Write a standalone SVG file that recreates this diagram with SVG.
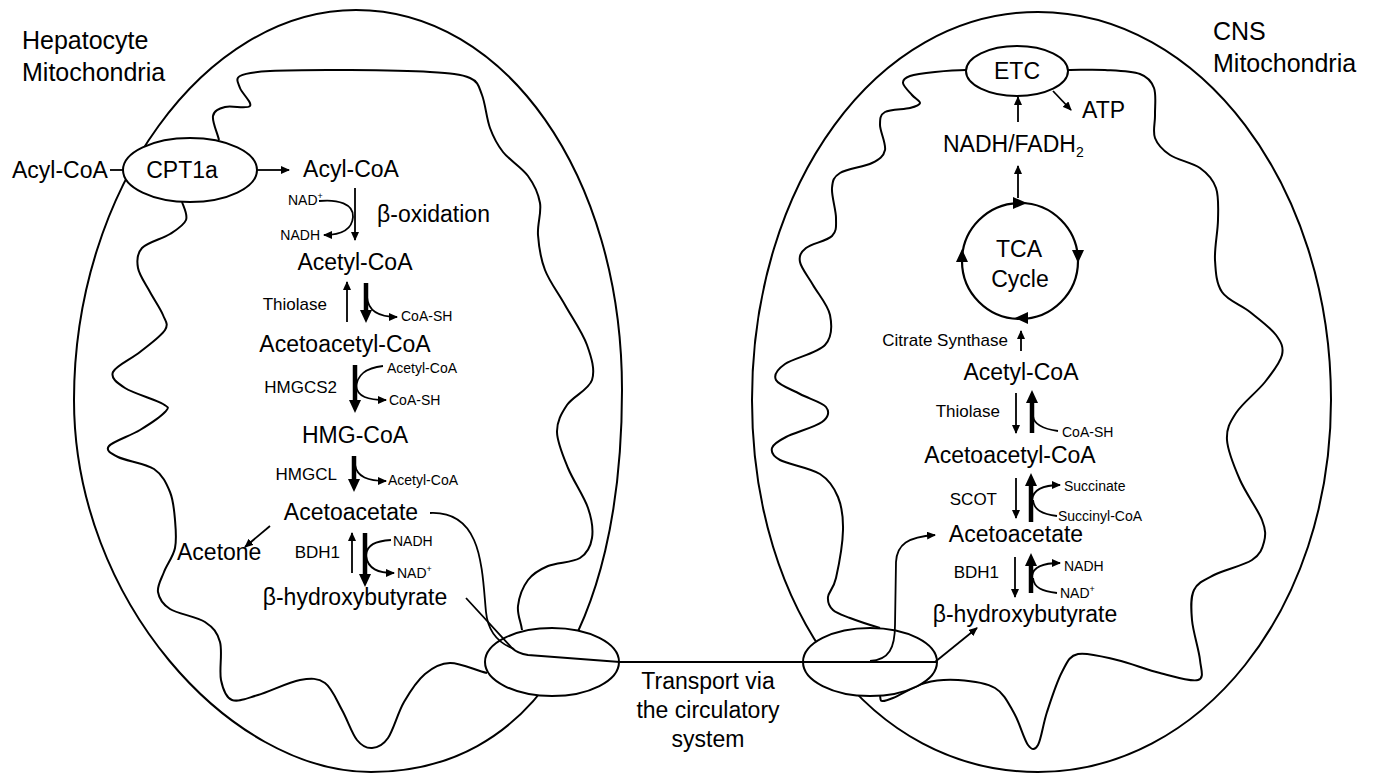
<svg xmlns="http://www.w3.org/2000/svg" width="1374" height="775" viewBox="0 0 1374 775">
<style>
text{font-family:"Liberation Sans",Arial,sans-serif;fill:#000}
.t{font-size:23px}
.e{font-size:17px}
.s{font-size:14px}
.h{font-size:25px}
.m{text-anchor:middle}
.r{text-anchor:end}
.mem{fill:none;stroke:#000;stroke-width:2}
.box{fill:#fff;stroke:#000;stroke-width:2}
.ln{fill:none;stroke:#000;stroke-width:1.8}
.ar{fill:none;stroke:#000;stroke-width:1.8;marker-end:url(#a)}
.tk{fill:none;stroke:#000;stroke-width:4.5;marker-end:url(#b)}
</style>
<defs>
<marker id="a" viewBox="0 0 9 8" refX="8" refY="4" markerWidth="9" markerHeight="8" markerUnits="userSpaceOnUse" orient="auto"><path d="M0,0L9,4L0,8Z"/></marker>
<marker id="b" viewBox="0 0 13 12" refX="4" refY="6" markerWidth="13" markerHeight="12" markerUnits="userSpaceOnUse" orient="auto"><path d="M0,0L13,6L0,12Z"/></marker>
</defs>
<rect width="1374" height="775" fill="#fff"/>

<g id="hepatocyte-mitochondrion">
<path class="mem" d="M356,10 C505,10 622,175 622,390 C622,630 530,772 371,772 C230,772 74,600 74,400 C74,190 205,10 356,10 Z"/>
<path class="mem" d="M182,202 C184,208 188,214.7 186,220 S177.3,229.3 170,234 S147.3,242.3 142,248 S136.7,260.7 138,268 S145.8,284.2 150,292 S160.5,308.7 163,315 S168.8,323.8 165,330 S148.7,345 140,352 S115.5,366 113,372 S116.7,382.7 125,388 S156.3,400 163,404 S168.8,407.7 165,412 S149.3,424.3 140,430 S112.7,441.5 109,446 S110.5,453.2 118,457 S145.3,463.2 154,469 S166.5,483.5 170,492 S174.2,510.7 175,520 S176.8,539.3 175,548 S166.8,564.7 164,572 S157,585.8 158,592 S162.2,604 170,609 S196.7,616.5 205,622 S217.3,632.3 220,642 S219,670.3 221,680 S225.8,697.5 232,700 S246.7,698.3 258,695 S288.8,682 300,680 S318,678 325,683 S336.7,700.5 342,710 S352,733.7 357,740 S366.8,748.3 372,748 S382.7,745.7 388,738 S397.8,712.7 404,702 S417.3,680.5 425,674 S439.7,663.2 450,663 S475,670 487,673"/>
<path class="mem" d="M219,140 C217,132 212,121.5 213,116 S218.8,108.7 225,107 S247.5,109.2 250,106 S241.7,93 240,88 S235,78.8 240,76 S251.7,72 270,71 S323.3,69.8 350,70 S410,70.7 430,72 S461.3,74.2 470,78 S478.7,86.7 482,95 S486.5,118.5 490,128 S496.7,144 503,152 S521.8,167.5 528,176 S538.3,193.2 540,203 S537.2,223.8 538,235 S540.5,258.3 545,270 S558,292.5 565,305 S582.5,332.5 587,345 S595.3,370 592,380 S572.8,396.3 567,405 S556.8,421.5 557,432 S562.8,455.3 568,468 S584,496.3 588,508 S593.3,529.7 592,538 S587.3,553.3 580,558 S556.7,562.3 548,566 S533,573.3 528,580 S519,597.7 518,606 S521,622 522,630"/>
<text class="h" x="22" y="49">Hepatocyte</text>
<text class="h" x="22" y="81">Mitochondria</text>
</g>

<g id="cns-mitochondrion">
<path class="mem" d="M1038,12 C1200,12 1331,185 1331,400 C1331,610 1200,772 1038,772 C870,772 752,610 752,400 C752,185 876,12 1038,12 Z"/>
<path class="mem" d="M966,70 C955,70 944.3,71 935,72 S915.3,74.2 910,76 S902.7,79.8 903,83 S909.2,91.7 912,95 S920.3,100.8 920,103 S915.8,106.5 910,108 S890,109.2 885,112 S880,118.7 880,125 S886.3,143.7 885,150 S879.5,159.2 872,163 S846.7,168.8 840,173 S832.7,180.5 832,188 S836,210 836,218 S837,231 832,236 S811.3,243.7 806,248 S798.8,255.8 800,262 S808,276.2 813,285 S828,305 830,315 S832.5,336.8 825,345 S793.2,358.2 785,364 S773.5,375 776,380 S791.7,389.5 800,394 S822.3,402.3 826,407 S828.7,417 822,422 S794.3,432.7 786,437 S773,444.2 772,448 S772,455.7 780,460 S810.3,467.8 820,474 S834.2,487.7 838,497 S843.3,516.5 843,530 S838.5,566.8 836,578 S828.5,591.7 828,597 S829.3,606.5 833,610 S842.2,615 850,618 S870,625 880,628"/>
<path class="mem" d="M1068,70 C1080,70 1093,69.3 1105,70 S1131.8,71 1140,74 S1151.5,81.2 1154,88 S1154.8,106.7 1155,115 S1152.5,131.3 1155,138 S1162.5,150 1170,155 S1192.3,162.5 1200,168 S1213,179.3 1216,188 S1218.2,208 1218,220 S1214.3,248 1215,260 S1216.2,283.3 1222,292 S1241,304.8 1250,312 S1270.7,327.8 1276,335 S1283.8,347.2 1282,355 S1272.7,372.3 1265,382 S1242.3,403.3 1236,413 S1226.3,428.8 1227,440 S1234.2,466.7 1240,480 S1258,509.7 1262,520 S1265.7,535.3 1264,542 S1260.3,554.5 1252,560 S1223.7,570 1214,575 S1197.7,582.5 1194,590 S1191,608.3 1192,620 S1199,650 1200,660 S1204.7,677.8 1198,680 S1173.5,676.3 1160,673 S1130.7,663.2 1117,660 S1087.2,652 1078,654 S1067.2,662.3 1062,672 S1051,699.8 1047,712 S1041.2,739.5 1038,745 S1032,750.3 1028,745 S1019.5,722.5 1014,713 S1004.3,693.5 995,688 S969.7,680.8 958,680 S935.8,680 925,683 S900.2,695 893,698 S884.2,701.3 882,701 S881,700 880,696"/>
<text class="h" x="1213" y="40">CNS</text>
<text class="h" x="1213" y="72">Mitochondria</text>
</g>

<g id="cpt1a"><ellipse class="box" cx="190" cy="170" rx="67" ry="32"/><text class="t m" x="182" y="178">CPT1a</text></g>
<g id="transport-left"><ellipse class="box" cx="552" cy="662" rx="67" ry="34"/></g>
<g id="transport-right"><ellipse class="box" cx="870" cy="662" rx="67" ry="34"/></g>
<g id="etc"><ellipse class="box" cx="1017" cy="71" rx="51" ry="25"/><text class="t m" x="1017" y="79">ETC</text></g>
<g id="tca"><circle cx="1020" cy="261" r="58" fill="none" stroke="#000" stroke-width="2.2"/>
<path d="M1013,197 L1027,203 L1013,209 Z M1072,250 L1084,250 L1078,263 Z M1028,312 L1028,324 L1015,318 Z M956,262 L968,262 L962,249 Z"/>
<text class="t m" x="1019" y="257">TCA</text><text class="t m" x="1020" y="287">Cycle</text></g>

<g id="connectors">
<path class="ln" d="M110,170 L123,170"/>
<path class="ar" d="M257,170 L289,170"/>
<path class="ar" d="M355,188 L355,240"/>
<path class="ar" d="M319,201 C338,199 354,204 353,217 C352,230 340,235 324,235"/>
<path class="ar" d="M347,322 L347,282"/>
<path class="tk" d="M366,283 L366,314"/>
<path class="ar" d="M367,297 C368,311 378,317 397,317"/>
<path class="tk" d="M355,365 L355,404"/>
<path class="ln" d="M383,366 C365,368 357,375 356,388"/>
<path class="ar" d="M356,385 C357,397 368,400 386,400"/>
<path class="tk" d="M354,456 L354,483"/>
<path class="ar" d="M355,465 C357,477 368,481 386,481"/>
<path class="ar" d="M270,526 L245,547"/>
<path class="ar" d="M352,573 L352,533"/>
<path class="tk" d="M365,533 L365,578"/>
<path class="ln" d="M391,540 C375,541 367,545 366,555"/>
<path class="ar" d="M366,556 C368,569 378,573 394,573"/>
<path class="ln" d="M430,513 C452,512 466,522 474,540 C483,560 484,592 486,612 C488,632 498,643 514,649"/>
<path class="ln" d="M466,598 L512,648 C516,652 521,654 528,655 L620,662 L937,662"/>
<path class="ar" d="M1053,91 L1071,110"/>
<path class="ar" d="M1018,122 L1018,97"/>
<path class="ar" d="M1018,198 L1018,166"/>
<path class="ar" d="M1021,351 L1021,331"/>
<path class="ar" d="M1016,393 L1016,433"/>
<path class="tk" d="M1032,433 L1032,399"/>
<path class="ln" d="M1058,431 C1043,429 1034,425 1033,416"/>
<path class="ar" d="M1016,478 L1016,518"/>
<path class="tk" d="M1031,522 L1031,482"/>
<path class="ar" d="M1032,500 C1033,490 1043,485 1060,485"/>
<path class="ln" d="M1057,516 C1042,514 1034,510 1033,500"/>
<path class="ar" d="M1015,557 L1015,597"/>
<path class="tk" d="M1031,593 L1031,562"/>
<path class="ar" d="M1032,576 C1033,567 1043,563 1060,563"/>
<path class="ln" d="M1057,593 C1042,591 1034,588 1033,578"/>
<path class="ar" d="M870,661 C889,660 895,648 895,625 L896,562 C897,544 908,537 935,535"/>
<path class="ar" d="M935,662 L977,628"/>
</g>

<g id="labels-left">
<text class="t" x="12" y="178">Acyl-CoA</text>
<text class="t m" x="351" y="177">Acyl-CoA</text>
<text class="s" x="288" y="205">NAD<tspan font-size="9" dy="-6">+</tspan></text>
<text class="s r" x="320" y="240">NADH</text>
<text class="t" x="377" y="222">β-oxidation</text>
<text class="t m" x="355" y="270">Acetyl-CoA</text>
<text class="e r" x="327" y="310">Thiolase</text>
<text class="s" x="401" y="321">CoA-SH</text>
<text class="t m" x="345" y="352">Acetoacetyl-CoA</text>
<text class="e r" x="337" y="393">HMGCS2</text>
<text class="s" x="387" y="373">Acetyl-CoA</text>
<text class="s" x="389" y="405">CoA-SH</text>
<text class="t m" x="355" y="443">HMG-CoA</text>
<text class="e r" x="337" y="480">HMGCL</text>
<text class="s" x="388" y="485">Acetyl-CoA</text>
<text class="t m" x="351" y="520">Acetoacetate</text>
<text class="t" x="177" y="560">Acetone</text>
<text class="e r" x="340" y="558">BDH1</text>
<text class="s" x="393" y="546">NADH</text>
<text class="s" x="397" y="578">NAD<tspan font-size="9" dy="-6">+</tspan></text>
<text class="t m" x="355" y="605">β-hydroxybutyrate</text>
</g>

<g id="labels-right">
<text class="t" x="1082" y="118">ATP</text>
<text class="t" x="943" y="152">NADH/FADH<tspan font-size="14" dy="5">2</tspan></text>
<text class="e r" x="1008" y="346">Citrate Synthase</text>
<text class="t m" x="1021" y="380">Acetyl-CoA</text>
<text class="e r" x="1000" y="417">Thiolase</text>
<text class="s" x="1062" y="437">CoA-SH</text>
<text class="t m" x="1010" y="463">Acetoacetyl-CoA</text>
<text class="e r" x="997" y="505">SCOT</text>
<text class="s" x="1064" y="491">Succinate</text>
<text class="s" x="1058" y="521">Succinyl-CoA</text>
<text class="t m" x="1016" y="542">Acetoacetate</text>
<text class="e r" x="999" y="578">BDH1</text>
<text class="s" x="1064" y="571">NADH</text>
<text class="s" x="1060" y="598">NAD<tspan font-size="9" dy="-6">+</tspan></text>
<text class="t m" x="1025" y="622">β-hydroxybutyrate</text>
</g>

<g id="transport-label">
<text class="t m" x="708" y="689">Transport via</text>
<text class="t m" x="708" y="718">the circulatory</text>
<text class="t m" x="708" y="747">system</text>
</g>
</svg>
